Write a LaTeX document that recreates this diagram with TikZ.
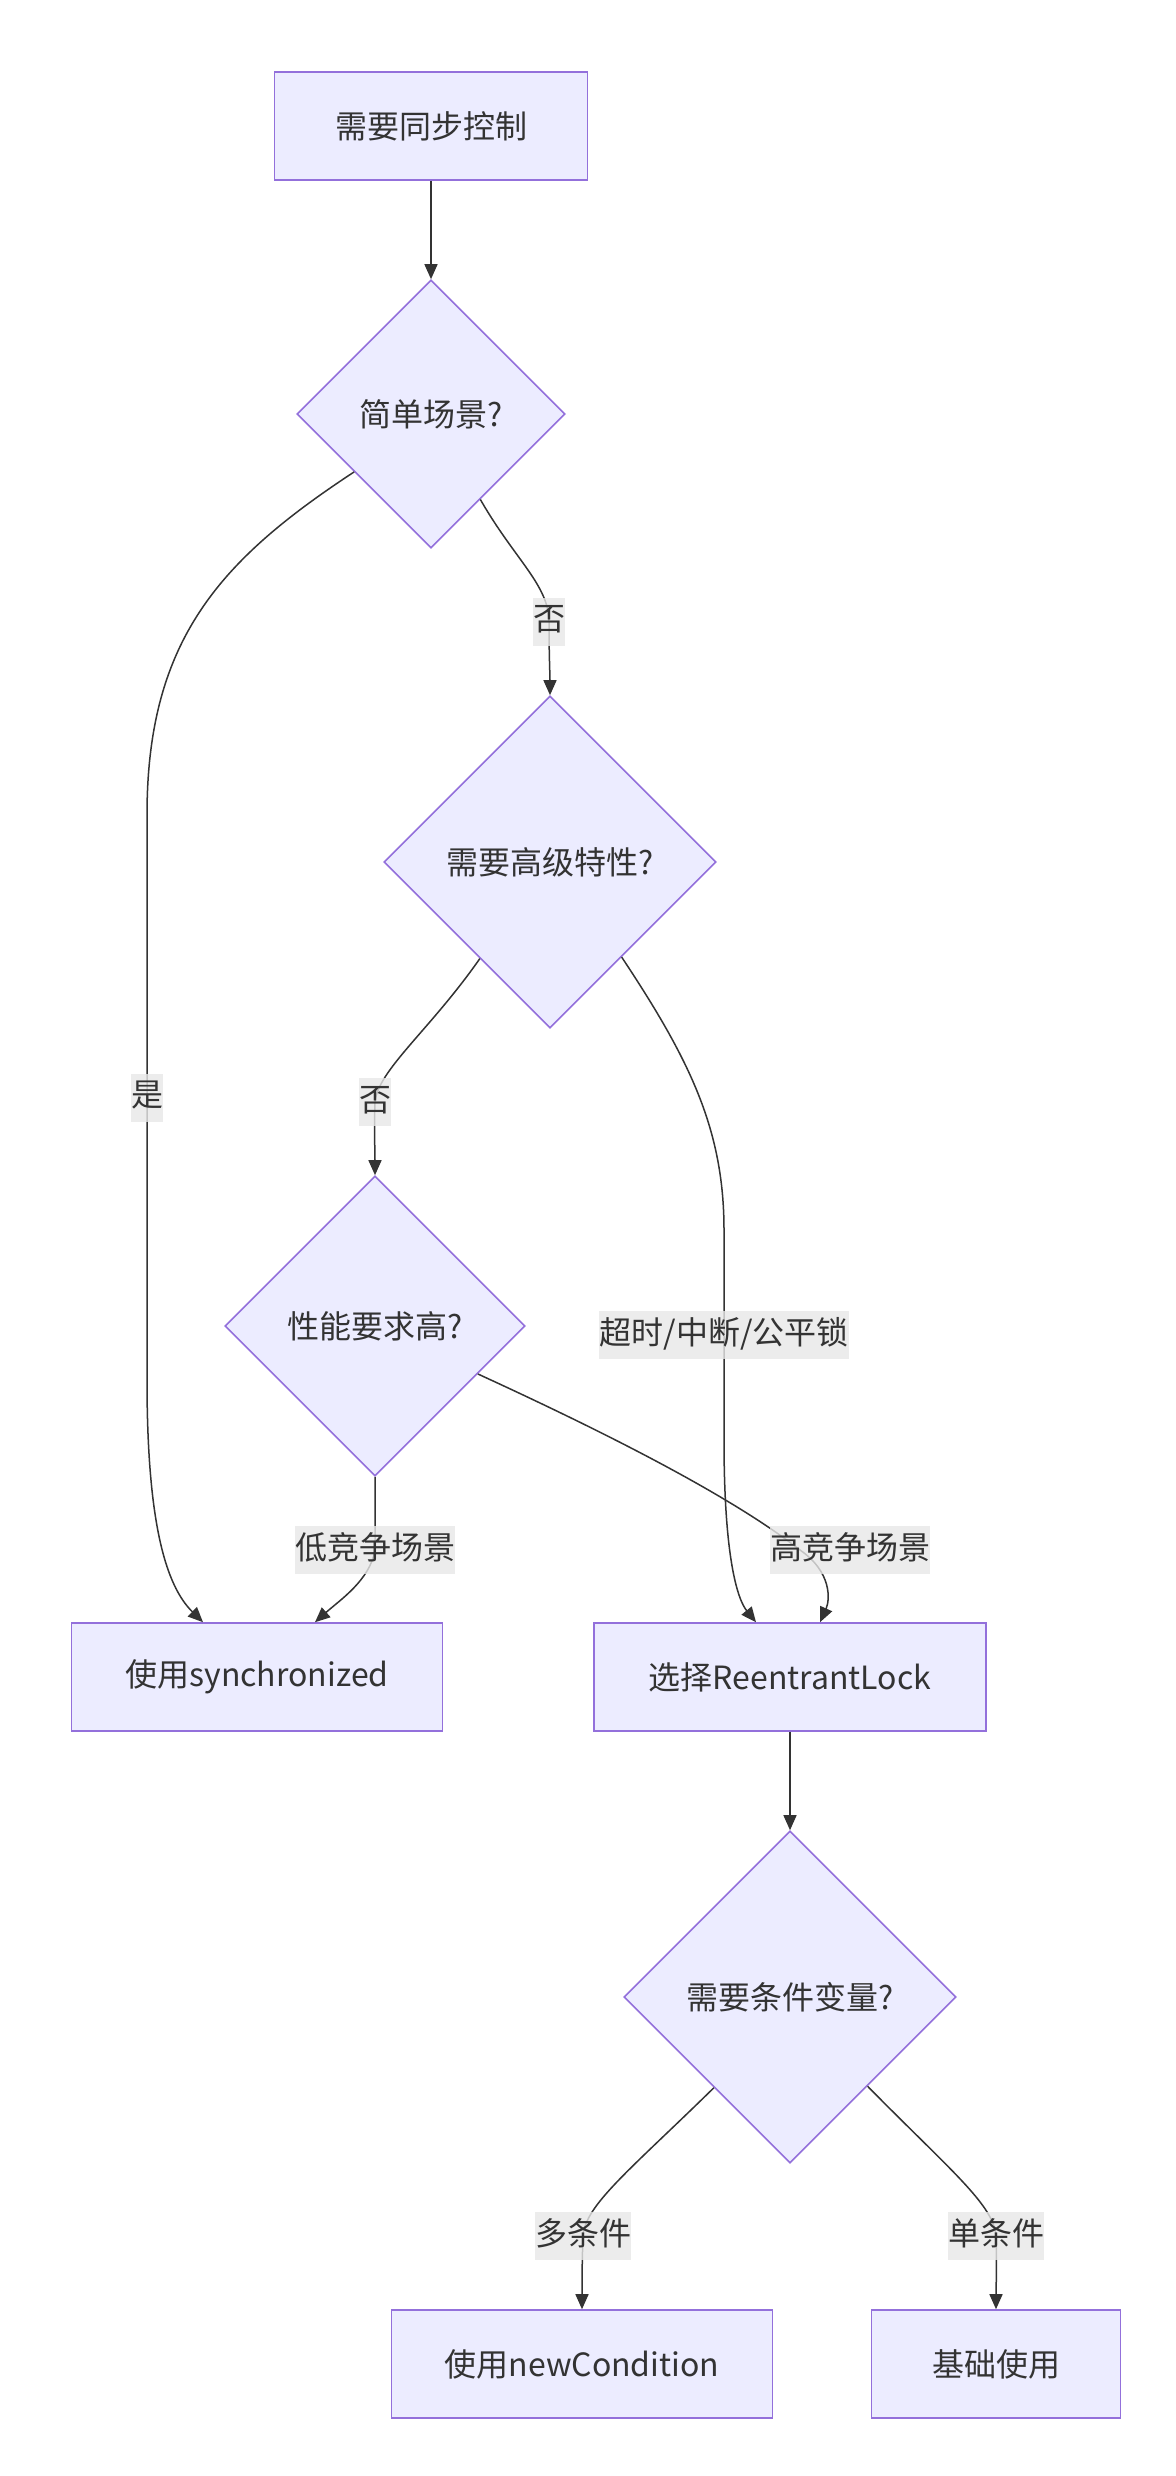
\documentclass[tikz,border=0pt]{standalone}
\usepackage{fontspec}
\setmainfont{Noto Sans CJK SC}
\usetikzlibrary{shapes.geometric,arrows.meta}

\definecolor{nodefill}{HTML}{ECECFF}
\definecolor{nodeline}{HTML}{9370DB}
\definecolor{edgeline}{HTML}{333333}
\definecolor{lblbg}{HTML}{E8E8E8}
\definecolor{txt}{HTML}{333333}

\begin{document}
\begin{tikzpicture}[x=0.5pt,y=-0.5pt,
		font=\fontsize{16pt}{20pt}\selectfont, text=txt,
		box/.style={draw=nodeline, fill=nodefill, line width=0.8pt, minimum height=54pt, inner xsep=10pt, minimum width=#1},
		decision/.style={diamond, aspect=1, draw=nodeline, fill=nodefill, line width=0.8pt, inner sep=0pt, minimum width=#1, minimum height=#1},
		flow/.style={draw=edgeline, line width=0.75pt, -{Triangle[length=7.5pt,width=6.5pt]}},
		lbl/.style={fill=lblbg, fill opacity=0.8, text opacity=1, inner sep=0pt, minimum height=24pt, text height=12pt, text depth=3pt}]
		\fill[white] (0,0) rectangle (1176,2476);
		\useasboundingbox (0,0) rectangle (1176,2476);
		
		% nodes
		\node[box=156.5pt] (start) at (431,126) {需要同步控制};
		\node[decision=134pt] (simple) at (431,414) {简单场景?};
		\node[decision=166pt] (advanced) at (550,862) {需要高级特性?};
		\node[decision=150pt] (perf) at (375,1326) {性能要求高?};
		\node[box=185.5pt] (sync) at (257,1677) {使用synchronized};
		\node[box=196pt] (reentrant) at (790,1677) {选择ReentrantLock};
		\node[decision=166pt] (cond) at (790,1997) {需要条件变量?};
		\node[box=190.5pt] (newcond) at (582,2364) {使用newCondition};
		\node[box=124.5pt] (basic) at (996,2364) {基础使用};
		
		% edges
		\draw[flow] (start) -- (simple);
		\draw[flow] (simple.217) .. controls (220,560) and (147,640) .. (147,815) -- node[lbl] (yes) {是} (147,1380) .. controls (147,1520) and (165,1585) .. ([xshift=-27pt]sync.north);
		\draw[flow] (simple.-60) .. controls (515,560) and (549,585) .. (549,622) node[lbl] (no1) {否} .. controls (549,655) and (550,675) .. (advanced.north);
		\draw[flow] (advanced.234) .. controls (430,1030) and (378,1070) .. (375,1102) node[lbl] (no2) {否} .. controls (374,1130) and (375,1150) .. (perf.north);
		\draw[flow] (advanced.-53) .. controls (690,1060) and (724,1130) .. (724,1230) -- node[lbl] (feat) {超时/中断/公平锁} (724,1440) .. controls (724,1560) and (738,1600) .. ([xshift=-17pt]reentrant.north);
		\draw[flow] (perf.south) .. controls (375,1510) and (375,1530) .. (375,1550) node[lbl] (low) {低竞争场景} .. controls (370,1580) and (340,1600) .. ([xshift=29pt]sync.north);
		\draw[flow] (perf.-25) .. controls (600,1430) and (730,1495) .. (800,1550) .. controls (832,1572) and (830,1600) .. ([xshift=15pt]reentrant.north);
		\node[lbl] (high) at (850,1550) {高竞争场景};
		\draw[flow] (reentrant) -- (cond);
		\draw[flow] (cond.230) .. controls (630,2170) and (585,2205) .. (583,2236) node[lbl] (multi) {多条件} .. controls (582,2260) and (582,2290) .. (newcond.north);
		\draw[flow] (cond.-49) .. controls (950,2170) and (994,2205) .. (996,2236) node[lbl] (single) {单条件} .. controls (997,2260) and (996,2290) .. (basic.north);
	\end{tikzpicture}
\end{document}
